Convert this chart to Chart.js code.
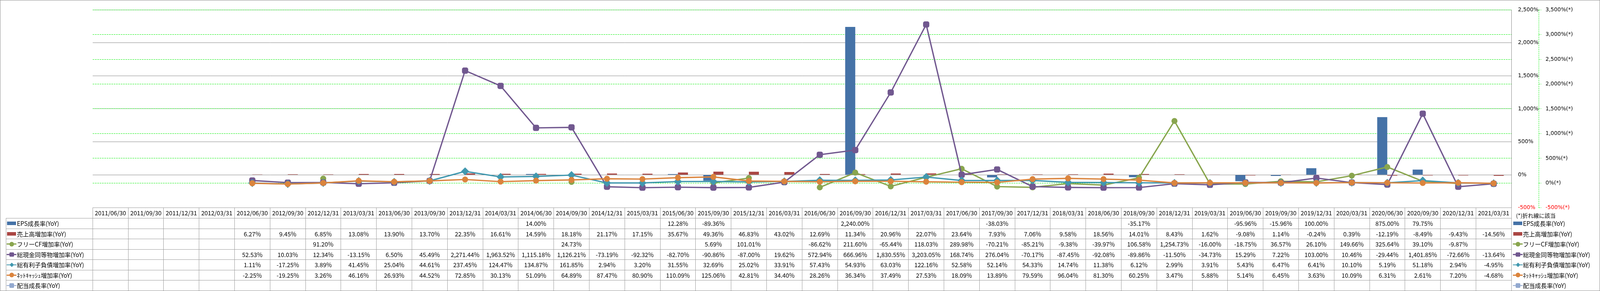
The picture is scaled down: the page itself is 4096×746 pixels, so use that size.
<!DOCTYPE html>
<html>
<head>
<meta charset="utf-8">
<script src="https://cdn.jsdelivr.net/npm/chart.js"></script>
<style>
html,body{margin:0;padding:0;background:#fff;}
#wrap{position:relative;width:4096px;height:746px;overflow:hidden;background:#fff;}
#c{position:absolute;left:0;top:0;}
.frame{position:absolute;left:0;top:0;width:4094px;height:744px;border:1px solid #8c8c8c;pointer-events:none;}
.ln{position:absolute;background:#9a9a9a;}
.cell{position:absolute;display:flex;align-items:center;justify-content:center;font-family:"Noto Sans CJK JP","Noto Sans",sans-serif;font-size:15.3px;color:#000;white-space:nowrap;line-height:1;}
.lab{position:absolute;display:flex;align-items:center;font-family:"Noto Sans CJK JP","Noto Sans",sans-serif;font-size:15.3px;color:#000;white-space:nowrap;line-height:1;}
.ic{position:absolute;}
</style>
</head>
<body>
<div id="wrap">
<canvas id="c" width="4096" height="746" style="width:4096px;height:746px"></canvas>
<div id="tbl"></div>
<div class="frame"></div>
</div>
<script>
// ---------------- data ----------------
const categories = [
 '2011/06/30','2011/09/30','2011/12/31','2012/03/31','2012/06/30','2012/09/30','2012/12/31','2013/03/31',
 '2013/06/30','2013/09/30','2013/12/31','2014/03/31','2014/06/30','2014/09/30','2014/12/31','2015/03/31',
 '2015/06/30','2015/09/30','2015/12/31','2016/03/31','2016/06/30','2016/09/30','2016/12/31','2017/03/31',
 '2017/06/30','2017/09/30','2017/12/31','2018/03/31','2018/06/30','2018/09/30','2018/12/31','2019/03/31',
 '2019/06/30','2019/09/30','2019/12/31','2020/03/31','2020/06/30','2020/09/30','2020/12/31','2021/03/31'
];
const epsGrowth = [
 null,null,null,null,null,null,null,null,null,null,null,null,14.00,null,null,null,
 12.28,-89.36,null,null,null,2240.00,null,null,null,-38.03,null,null,null,-35.17,null,null,
 -95.96,-15.96,100.00,null,875.00,79.75,null,null
];
const salesGrowth = [
 null,null,null,null,6.27,9.45,6.85,13.08,13.90,13.70,22.35,16.61,14.59,18.18,21.17,17.15,
 35.67,49.36,46.83,43.02,12.69,11.34,20.96,22.07,23.64,7.93,7.06,9.58,18.56,14.01,8.43,1.62,
 -9.08,1.14,-0.24,0.39,-12.19,-8.49,-9.43,-14.56
];
const fcfGrowth = [
 null,null,null,null,null,null,91.20,null,null,null,null,null,null,24.73,null,null,
 null,5.69,101.01,null,-86.62,211.60,-65.44,118.03,289.98,-70.21,-85.21,-9.38,-39.97,106.58,1254.73,-16.00,
 -18.75,36.57,26.10,149.66,325.64,39.10,-9.87,null
];
const cashGrowth = [
 null,null,null,null,52.53,10.03,12.34,-13.15,6.50,45.49,2271.44,1963.52,1115.18,1126.21,-73.19,-92.32,
 -82.70,-90.86,-87.00,19.62,572.94,666.96,1830.55,3203.05,168.74,276.04,-70.17,-87.45,-92.08,-89.86,-11.50,-34.73,
 15.29,7.22,103.00,10.46,-29.44,1401.85,-72.66,-13.64
];
const debtGrowth = [
 null,null,null,null,1.11,-17.25,3.89,41.45,25.04,44.61,237.45,124.47,134.87,161.85,2.94,3.20,
 31.55,32.69,25.02,33.91,57.43,54.93,63.03,122.16,52.58,52.14,54.33,14.74,11.38,6.12,2.99,3.91,
 5.43,6.47,6.41,10.10,5.19,51.18,2.94,-4.95
];
const netCashGrowth = [
 null,null,null,null,-2.25,-19.25,3.26,46.16,26.93,44.52,72.85,30.13,51.09,64.89,87.47,80.90,
 110.09,125.06,42.81,34.40,28.26,36.34,37.49,27.53,18.09,13.89,79.59,96.04,81.30,60.25,3.47,5.88,
 5.14,6.45,3.63,10.09,6.31,2.61,7.20,-4.68
];
const dividendGrowth = categories.map(() => null);

const seriesNames = ['EPS成長率(YoY)','売上高増加率(YoY)','フリーCF増加率(YoY)','総現金同等物増加率(YoY)','総有利子負債増加率(YoY)','ﾈｯﾄｷｬｯｼｭ増加率(YoY)','配当成長率(YoY)'];
const primaryRange = {min: -500, max: 2500, step: 500};
const secondaryRange = {min: -500, max: 3500, step: 500};
const noteText = '(*)折れ線に該当';

// ---------------- styles ----------------
const COL = {eps:'#4572A7', sales:'#AA4643', fcf:'#89A54E', cash:'#71588F', debt:'#4198AF', net:'#DB843D', div:'#93A9CF'};
const seriesDefs = [
  {name: seriesNames[0], data: epsGrowth, kind:'bar', color: COL.eps},
  {name: seriesNames[1], data: salesGrowth, kind:'bar', color: COL.sales},
  {name: seriesNames[2], data: fcfGrowth, kind:'line', color: COL.fcf, marker:'circle'},
  {name: seriesNames[3], data: cashGrowth, kind:'line', color: COL.cash, marker:'rectRounded'},
  {name: seriesNames[4], data: debtGrowth, kind:'line', color: COL.debt, marker:'rectRot'},
  {name: seriesNames[5], data: netCashGrowth, kind:'line', color: COL.net, marker:'circle'},
  {name: seriesNames[6], data: dividendGrowth, kind:'line', color: COL.div, marker:'rectRounded'}
];
const markerRadius = {circle: 7.7, rectRounded: 9.3, rectRot: 10.3};
const drawOrder = [6, 7, 4, 3, 2, 1, 5];

const datasets = seriesDefs.map((s, i) => {
  if (s.kind === 'bar') {
    return {type:'bar', label:s.name, data:s.data, yAxisID:'y', backgroundColor:s.color, borderWidth:0,
      categoryPercentage:0.568, barPercentage:1.0, order: drawOrder[i]};
  }
  return {type:'line', label:s.name, data:s.data, yAxisID:'y2', borderColor:s.color, backgroundColor:s.color,
    borderWidth:3.4, tension:0, fill:false, spanGaps:false, pointStyle:s.marker,
    pointRadius:markerRadius[s.marker], pointHoverRadius:markerRadius[s.marker],
    pointBackgroundColor:s.color, pointBorderColor:s.color, pointBorderWidth:0, order: drawOrder[i]};
});

const fmtNum = v => v.toLocaleString('en-US');
const tickColor = c => (c.tick && c.tick.value === -500) ? '#ff0000' : '#000000';

const secondaryAxisLine = {
  id: 'secondaryAxisLine',
  afterDraw(chart) {
    const s = chart.scales.y2, ctx = chart.ctx;
    ctx.save();
    ctx.strokeStyle = '#00ee00';
    ctx.lineWidth = 1;
    ctx.setLineDash([3, 2]);
    ctx.beginPath();
    ctx.moveTo(Math.round(s.left) + 0.5, s.top);
    ctx.lineTo(Math.round(s.left) + 0.5, s.bottom);
    ctx.stroke();
    ctx.restore();
  }
};

const chart = new Chart(document.getElementById('c'), {
  type: 'bar',
  data: {labels: categories, datasets},
  plugins: [secondaryAxisLine],
  options: {
    responsive: false, animation: false, devicePixelRatio: 1,
    layout: {padding: {left: 237.3, top: 10.45, right: 6.9, bottom: 213.1}},
    plugins: {legend: {display: false}, tooltip: {enabled: false}},
    scales: {
      x: {display: false, offset: true, grid: {display: false}},
      y: {
        position: 'right', min: primaryRange.min, max: primaryRange.max,
        ticks: {stepSize: primaryRange.step, padding: 16.8, color: tickColor,
          font: {family: 'DejaVu Sans', size: 13.8}, callback: v => fmtNum(v) + '%'},
        grid: {color: '#868686', lineWidth: 1, drawTicks: false},
        border: {display: true, color: '#868686', width: 1},
        afterFit(s) { s.width = 69.9; }
      },
      y2: {
        position: 'right', min: secondaryRange.min, max: secondaryRange.max,
        ticks: {stepSize: secondaryRange.step, padding: 10.9, color: tickColor,
          font: {family: 'DejaVu Sans', size: 13.8}, callback: v => fmtNum(v) + '%(*)'},
        grid: {color: '#00ee00', lineWidth: 1, drawTicks: true, tickLength: 6.4,
          tickColor: '#00ee00', tickWidth: 1, tickBorderDash: [3, 2]},
        border: {display: false, dash: [4, 2]},
        afterFit(s) { s.width = 150; }
      }
    }
  }
});

// ---------------- table & legends (HTML) ----------------
const tbl = document.getElementById('tbl');
function el(cls, l, t, w, h, txt, extra) {
  const d = document.createElement('div');
  d.className = cls;
  d.style.left = l + 'px'; d.style.top = t + 'px';
  d.style.width = w + 'px'; d.style.height = h + 'px';
  if (txt !== undefined && txt !== null) d.textContent = txt;
  if (extra) Object.assign(d.style, extra);
  tbl.appendChild(d);
  return d;
}
const xs = chart.scales.x, ca = chart.chartArea;
const colW = xs.getPixelForValue(1) - xs.getPixelForValue(0);
const colLeft = i => xs.getPixelForValue(i) - colW / 2;
const tableLeft = 14.6, headTop = 532.4, headBottom = 559.5, tableBottom = 745.3;
const rowH = (tableBottom - headBottom) / seriesDefs.length;
const tRight = colLeft(categories.length);

// lines
el('ln', colLeft(0), headTop, tRight - colLeft(0), 1);
for (let r = 0; r <= seriesDefs.length; r++) {
  el('ln', tableLeft, headBottom + r * rowH - 0.5, tRight - tableLeft, 1);
}
el('ln', tableLeft, headBottom, 1, tableBottom - headBottom);
for (let i = 0; i <= categories.length; i++) {
  el('ln', colLeft(i) - 0.5, headTop, 1, tableBottom - headTop);
}
// header
categories.forEach((c, i) => el('cell', colLeft(i), headTop, colW, headBottom - headTop, c));
// values
const fmtVal = v => v.toLocaleString('en-US', {minimumFractionDigits: 2, maximumFractionDigits: 2}) + '%';
seriesDefs.forEach((s, r) => {
  const top = headBottom + r * rowH;
  s.data.forEach((v, i) => {
    if (v !== null) el('cell', colLeft(i), top, colW, rowH, fmtVal(v));
  });
});
// legend icons
function icon(x0, cy, s) {
  if (s.kind === 'bar') {
    el('ic', x0, cy - 4.5, 23, 9, null, {background: s.color});
    return;
  }
  el('ic', x0 - 0.5, cy - 1.4, 25, 2.8, null, {background: s.color});
  const mx = x0 + 12;
  if (s.marker === 'circle') {
    el('ic', mx - 6, cy - 6, 12, 12, null, {background: s.color, borderRadius: '50%'});
  } else if (s.marker === 'rectRounded') {
    el('ic', mx - 5.8, cy - 5.8, 11.6, 11.6, null, {background: s.color, borderRadius: '2.5px'});
  } else {
    el('ic', mx - 4.2, cy - 4.2, 8.4, 8.4, null, {background: s.color, transform: 'rotate(45deg)'});
  }
}
seriesDefs.forEach((s, r) => {
  const cy = headBottom + (r + 0.5) * rowH;
  icon(17.8, cy, s);
  el('lab', 43.2, cy - 10, 190, 20, s.name);
  icon(3873.8, cy, s);
  el('lab', 3898.7, cy - 10, 190, 20, s.name);
});
el('lab', 3881, 552.6 - 10, 150, 20, noteText, {fontSize: '14.2px'});
</script>
</body>
</html>
